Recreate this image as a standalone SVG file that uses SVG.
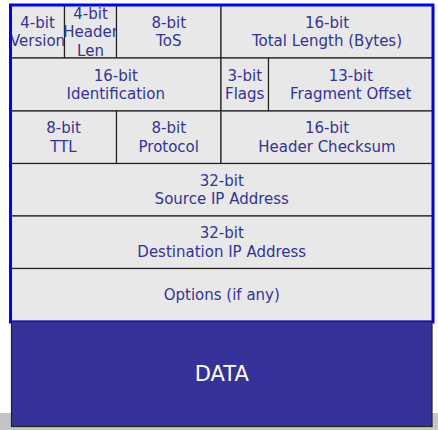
<svg xmlns="http://www.w3.org/2000/svg" width="438" height="430" viewBox="0 0 438 430">
  <style>
    .cell { fill: #e8e8e8; stroke: #222222; stroke-width: 1.2; }
    .lbl { font-family: "DejaVu Sans", "Liberation Sans", sans-serif; font-size: 15px; fill: #333399; text-anchor: middle; }
    .data-lbl { font-family: "DejaVu Sans", "Liberation Sans", sans-serif; font-size: 21px; fill: #ffffff; text-anchor: middle; }
  </style>
  <rect x="0" y="0" width="438" height="430" fill="#ffffff"/>
  <!-- page strip along the bottom -->
  <rect x="0" y="413" width="438" height="17" fill="#c4c4c4"/>

  <!-- IPv4 header fields -->
  <g id="version">
    <rect class="cell" x="10.5" y="5" width="54" height="53"/>
    <text class="lbl" x="37.5"><tspan x="37.5" y="27.7">4-bit</tspan><tspan x="37.5" y="46.2">Version</tspan></text>
  </g>
  <g id="header-len">
    <rect class="cell" x="64.5" y="5" width="52" height="53"/>
    <text class="lbl"><tspan x="90.5" y="18.5">4-bit</tspan><tspan x="90.5" y="37">Header</tspan><tspan x="90.5" y="55.5">Len</tspan></text>
  </g>
  <g id="tos">
    <rect class="cell" x="116.5" y="5" width="104.5" height="53"/>
    <text class="lbl"><tspan x="168.75" y="27.7">8-bit</tspan><tspan x="168.75" y="46.2">ToS</tspan></text>
  </g>
  <g id="total-length">
    <rect class="cell" x="221" y="5" width="212" height="53"/>
    <text class="lbl"><tspan x="327" y="27.7">16-bit</tspan><tspan x="327" y="46.2">Total Length (Bytes)</tspan></text>
  </g>

  <g id="identification">
    <rect class="cell" x="10.5" y="58" width="210.5" height="53"/>
    <text class="lbl"><tspan x="115.75" y="80.5">16-bit</tspan><tspan x="115.75" y="99">Identification</tspan></text>
  </g>
  <g id="flags">
    <rect class="cell" x="221" y="58" width="47.5" height="53"/>
    <text class="lbl"><tspan x="244.75" y="80.5">3-bit</tspan><tspan x="244.75" y="99">Flags</tspan></text>
  </g>
  <g id="fragment-offset">
    <rect class="cell" x="268.5" y="58" width="164.5" height="53"/>
    <text class="lbl"><tspan x="350.75" y="80.5">13-bit</tspan><tspan x="350.75" y="99">Fragment Offset</tspan></text>
  </g>

  <g id="ttl">
    <rect class="cell" x="10.5" y="111" width="106" height="52.5"/>
    <text class="lbl"><tspan x="63.5" y="133">8-bit</tspan><tspan x="63.5" y="151.5">TTL</tspan></text>
  </g>
  <g id="protocol">
    <rect class="cell" x="116.5" y="111" width="104.5" height="52.5"/>
    <text class="lbl"><tspan x="168.75" y="133">8-bit</tspan><tspan x="168.75" y="151.5">Protocol</tspan></text>
  </g>
  <g id="header-checksum">
    <rect class="cell" x="221" y="111" width="212" height="52.5"/>
    <text class="lbl"><tspan x="327" y="133">16-bit</tspan><tspan x="327" y="151.5">Header Checksum</tspan></text>
  </g>

  <g id="source-ip">
    <rect class="cell" x="10.5" y="163.5" width="422.5" height="52.5"/>
    <text class="lbl"><tspan x="221.75" y="185.5">32-bit</tspan><tspan x="221.75" y="204">Source IP Address</tspan></text>
  </g>
  <g id="destination-ip">
    <rect class="cell" x="10.5" y="216" width="422.5" height="52.5"/>
    <text class="lbl"><tspan x="221.75" y="238">32-bit</tspan><tspan x="221.75" y="256.5">Destination IP Address</tspan></text>
  </g>
  <g id="options">
    <rect class="cell" x="10.5" y="268.5" width="422.5" height="53"/>
    <text class="lbl" x="221.75" y="299.5">Options (if any)</text>
  </g>

  <!-- header outline -->
  <rect x="10.5" y="5" width="422.5" height="317" fill="none" stroke="#0000ff" stroke-width="3"/>

  <!-- payload -->
  <g id="data">
    <rect x="11.5" y="321.5" width="420.5" height="105" fill="#35339a" stroke="#222222" stroke-width="1.2"/>
    <text class="data-lbl" x="221.75" y="381">DATA</text>
  </g>
</svg>
